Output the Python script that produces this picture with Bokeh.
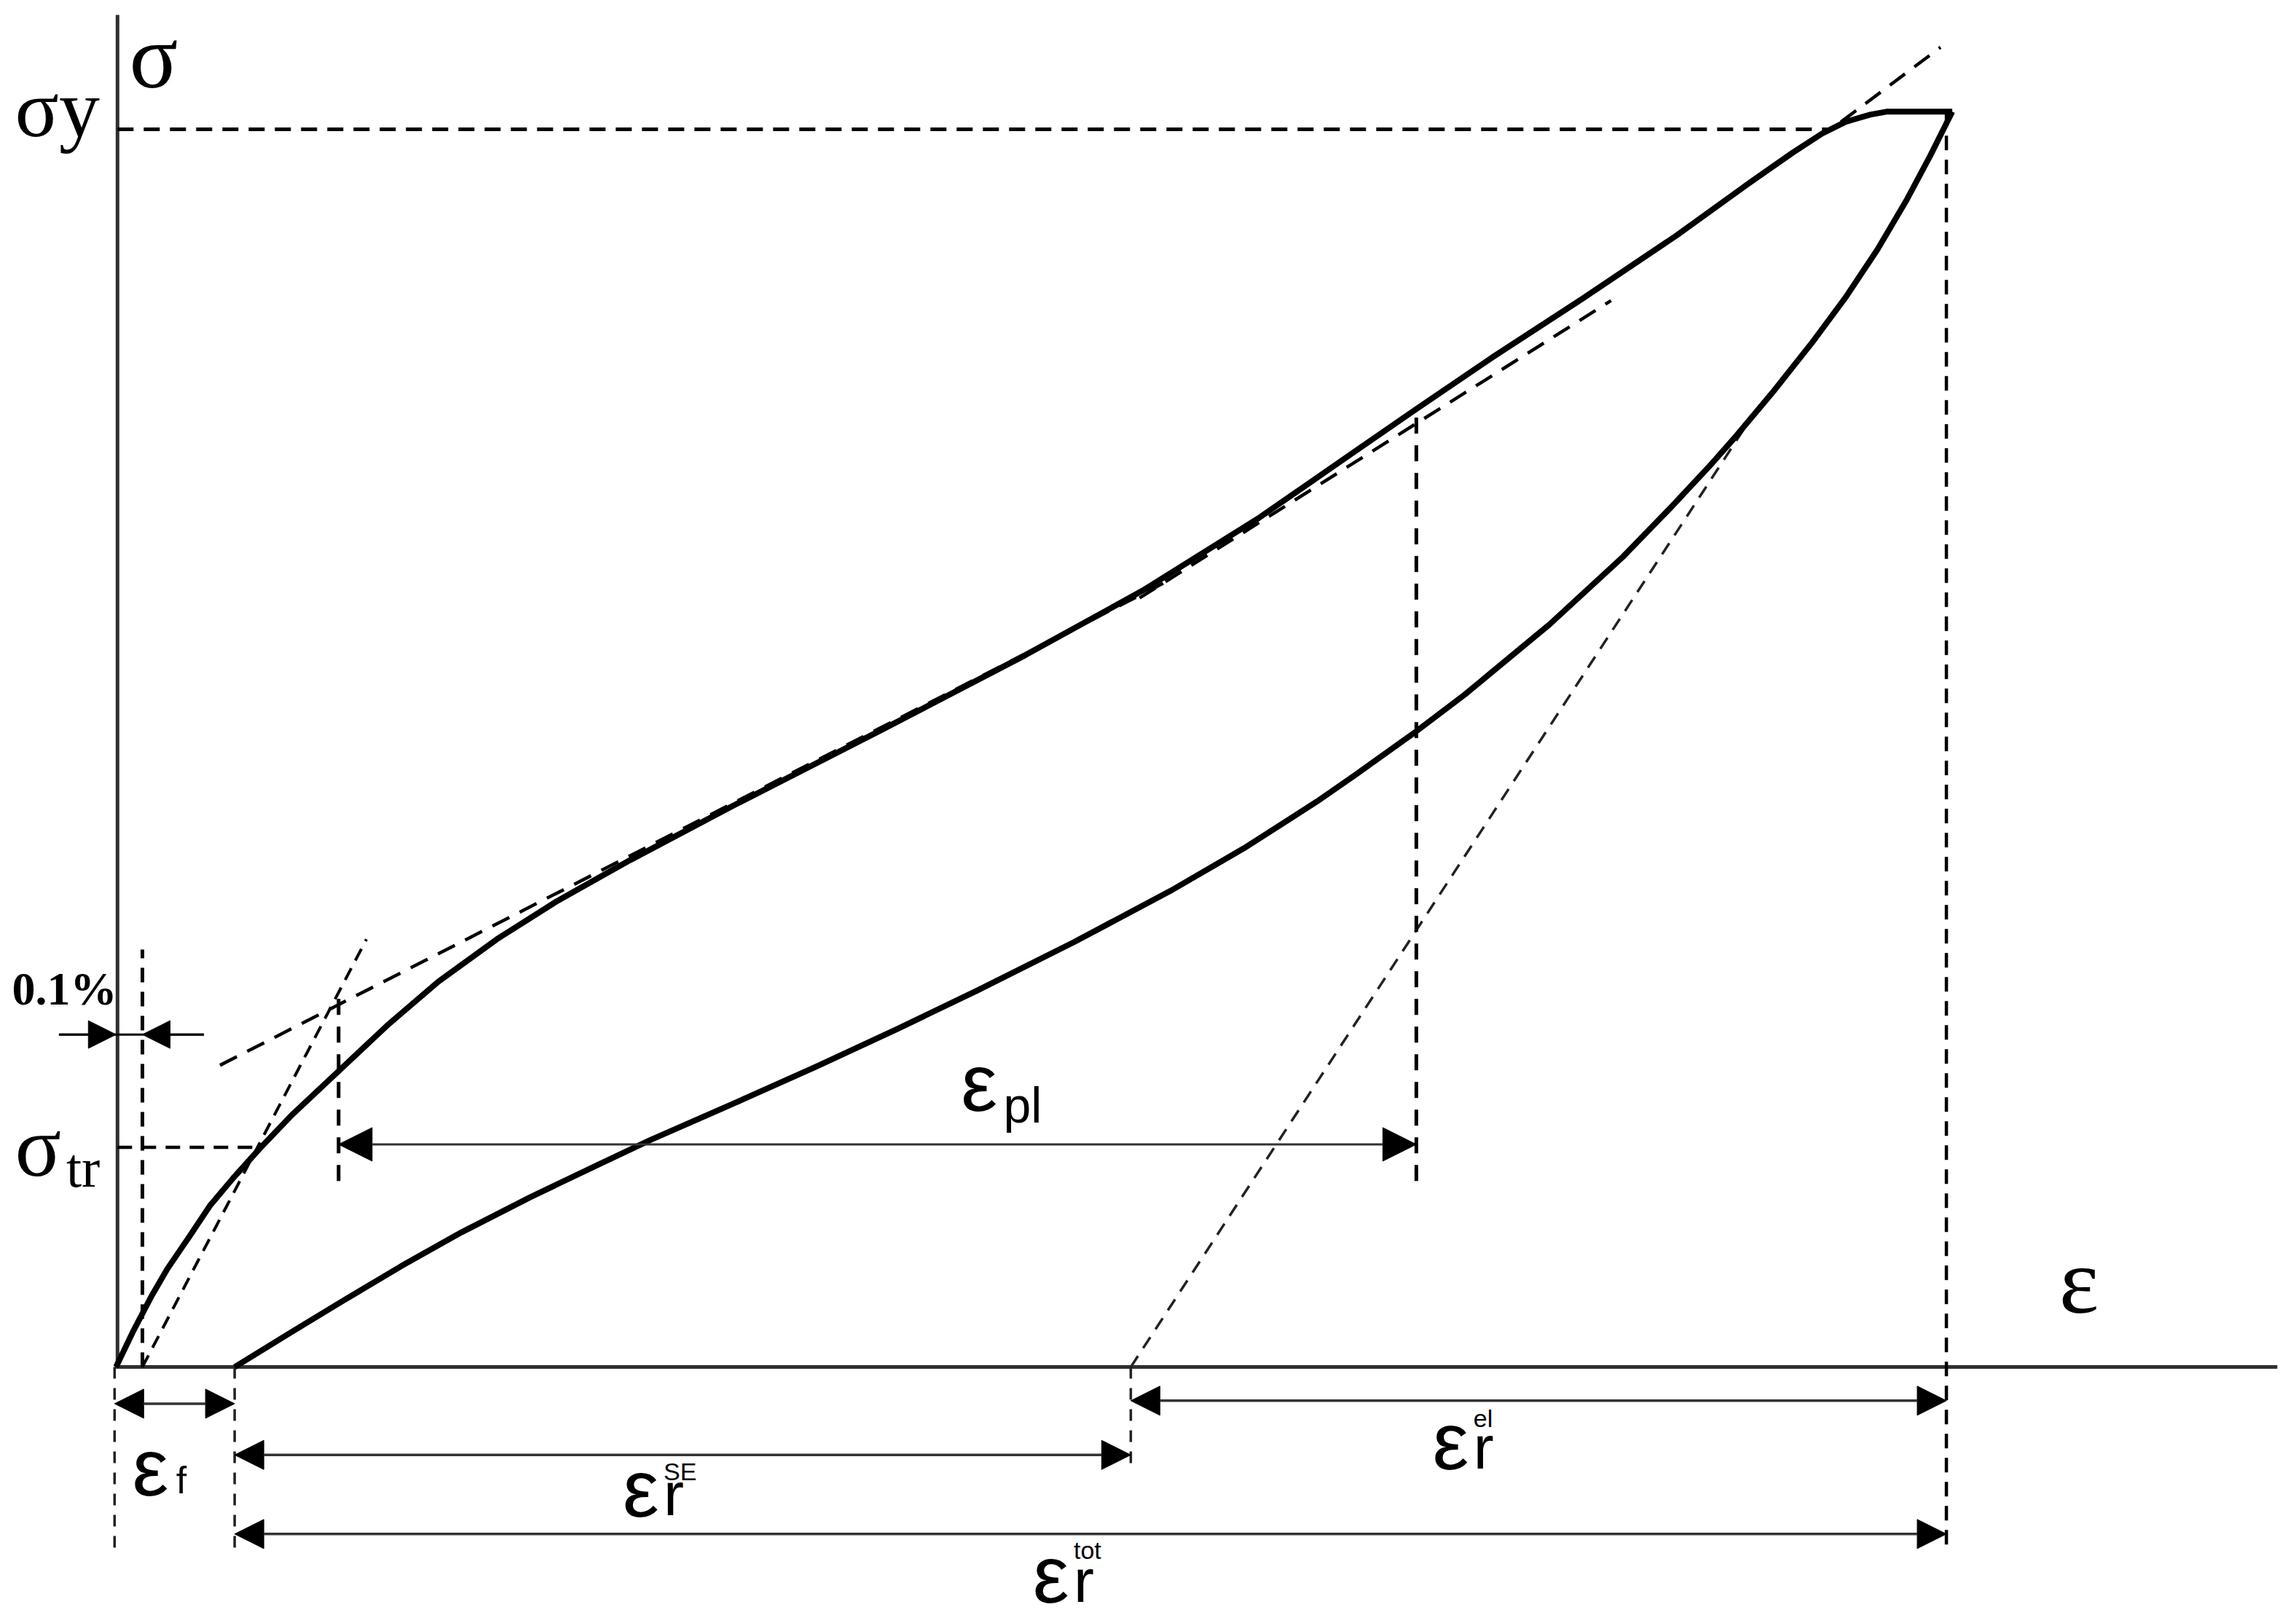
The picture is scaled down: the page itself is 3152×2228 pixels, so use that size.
from bokeh.plotting import figure
from bokeh.models import Range1d, Arrow, NormalHead
from bokeh.core.properties import value
from bokeh.embed import file_html
from bokeh.resources import INLINE

# ---- data (schematic units: strain e to the right, stress s upward) ----
load_e = [0, 12, 24, 35, 50, 64, 80, 98, 120, 152, 185, 220, 260, 301, 351, 421, 521, 621,
          701, 781, 846, 888, 941, 1001, 1065, 1115, 1145, 1165, 1181, 1198, 1209, 1254]
load_s = [0, 25, 48, 67, 89, 110, 129, 149, 172, 202, 233, 263, 292, 318, 346, 383, 434, 486,
          530, 580, 625, 654, 690, 729, 772, 808, 829, 842, 850, 855, 857, 857]

unload_e = [1254, 1239, 1223, 1203, 1181, 1158, 1131, 1105, 1090, 1062, 1029, 979, 921, 888,
            846, 820, 770, 720, 654, 588, 534, 478, 422, 365, 329, 283, 236, 195, 153, 120, 81]
unload_s = [857, 827, 797, 763, 730, 699, 665, 634, 617, 587, 553, 507, 459, 434,
            404, 386, 354, 325, 290, 257, 231, 205, 180, 155, 138, 116, 92, 69, 44, 24, 0]

# characteristic values
eps_f = 81          # residual strain after unloading
eps_offset = 18     # 0.1 % offset
eps_pl_start = 152
eps_pl_end = 888
eps_el_start = 693
eps_max = 1250
sigma_y = 845
sigma_tr = 150
sigma_peak = 857

# construction lines
tangent1_e = [71, 721]
tangent1_s = [206, 538]
tangent2_e = [699, 1021]
tangent2_s = [525, 728]
offset_e = [eps_offset, 171]
offset_s = [0, 292]
unload_tan_e = [eps_el_start, 1120]
unload_tan_s = [0, 653]
top_tan_e = [1178, 1246]
top_tan_s = [850, 901]

K_X, K_Y = 3152 / 1568, 2228 / 1108
X0, Y1 = -79.0, 933.0
W, H = 3136, 2228
X1 = X0 + W / K_X
Y0 = Y1 - H / K_Y

p = figure(width=W, height=H, x_range=Range1d(X0, X1), y_range=Range1d(Y0, Y1),
           output_backend="svg", toolbar_location=None, min_border=0)
p.axis.visible = False
p.grid.visible = False
p.outline_line_color = None
p.background_fill_color = "white"
p.border_fill_color = "white"

# axes
p.line([-1, 1476], [0, 0], line_color="#303030", line_width=5)
p.line([1, 1], [0, 923], line_color="#303030", line_width=5)

def dashed(xs, ys, w=4.5, dash="22 14", color="black"):
    p.line(xs, ys, line_color=color, line_width=w, line_dash=dash)

# horizontal reference lines
dashed([1, 1171], [sigma_y, sigma_y], w=5, dash="22 14")
dashed([1, 97], [sigma_tr, sigma_tr], w=4.5, dash="20 13")
# construction lines
dashed(tangent1_e, tangent1_s, w=4.5, dash="26 16")
dashed(tangent2_e, tangent2_s, w=4.5, dash="26 16")
dashed(offset_e, offset_s, w=4, dash="18 12")
dashed(unload_tan_e, unload_tan_s, w=3.5, dash="18 13", color="#222")
dashed(top_tan_e, top_tan_s, w=4.5, dash="26 16")
# verticals
dashed([eps_offset, eps_offset], [0, 285], w=5, dash="20 13")
dashed([eps_pl_start, eps_pl_start], [127, 255], w=5, dash="22 16")
dashed([eps_pl_end, eps_pl_end], [127, 652], w=5, dash="22 16")
dashed([eps_max, eps_max], [sigma_peak, -127], w=4.5, dash="20 13")
dashed([-1, -1], [0, -127], w=3.5, dash="16 13", color="#222")
dashed([eps_f, eps_f], [0, -127], w=3.5, dash="16 13", color="#222")
dashed([eps_el_start, eps_el_start], [0, -67], w=3.5, dash="16 13", color="#222")

# curves
p.line(load_e, load_s, line_color="black", line_width=8, line_join="round")
p.line(unload_e, unload_s, line_color="black", line_width=8, line_join="round")

def arrow(x0, y0, x1, y1, start=True, end=True, size=40, w=3, color="#333"):
    kw = {"start": NormalHead(size=size, fill_color="black", line_color="black", line_width=1) if start else None,
          "end": NormalHead(size=size, fill_color="black", line_color="black", line_width=1) if end else None}
    p.add_layout(Arrow(x_start=x0, y_start=y0, x_end=x1, y_end=y1,
                       line_width=w, line_color=color, **kw))

arrow(eps_pl_start, 152, eps_pl_end, 152, size=46, w=3)
# 0.1 % dimension
p.line([-39, 60], [227, 227], line_color="black", line_width=3)
arrow(-39, 227, 0, 227, start=False, size=38, w=3, color="black")
arrow(60, 227, eps_offset, 227, start=False, size=38, w=3, color="black")
# bottom dimensions
arrow(-1, -25, eps_f, -25, size=40, w=3.5)
arrow(eps_el_start, -23, eps_max, -23, size=40, w=3.5)
arrow(eps_f, -60, eps_el_start, -60, size=40, w=3.5)
arrow(eps_f, -114, eps_max, -114, size=40, w=3.5)

SERIF = value("Liberation Serif")
SANS = value("Liberation Sans")
def txt(x, y, s, size, font=SERIF, style="normal", color="black"):
    # baseline correction of the svg text metrics
    p.text(x=[x], y=[y + 0.145 * size], text=[s], text_font=font, text_font_size=f"{size}px",
           text_font_style=style, text_align="left", text_baseline="alphabetic",
           text_color=color)

txt(9, 876, "σ", 124)
txt(-69, 843, "σy", 112)
txt(-69, 133, "σ", 118)
txt(-34, 125, "tr", 76)
txt(-71, 249, "0.1%", 64, style="bold")
txt(1327, 40, "ε", 130)

txt(577, 178, "ε", 112, SANS)
txt(606, 169, "pl", 68, SANS)
txt(11, -85, "ε", 112, SANS)
txt(41, -85, "f", 52, SANS)
txt(346, -99, "ε", 112, SANS)
txt(374, -99, "r", 84, SANS)
txt(374, -76, "SE", 34, SANS)
txt(899, -67, "ε", 112, SANS)
txt(927, -67, "r", 84, SANS)
txt(927, -40, "el", 34, SANS)
txt(626, -158, "ε", 112, SANS)
txt(654, -158, "r", 84, SANS)
txt(654, -130, "tot", 34, SANS)

open("out.html", "w").write(file_html(p, INLINE))
